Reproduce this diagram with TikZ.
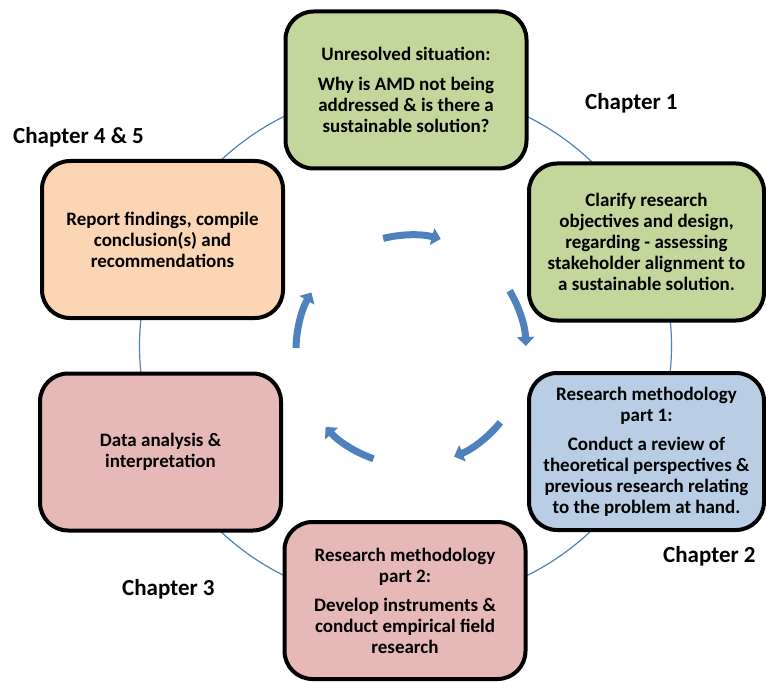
\documentclass[tikz,border=0pt]{standalone}
\usepackage{fontspec}
\setmainfont{Carlito}
\usetikzlibrary{arrows.meta,positioning}

\definecolor{ringblue}{HTML}{4F81BD}
\definecolor{sagegreen}{HTML}{C3D69B}
\definecolor{paleblue}{HTML}{B9CDE5}
\definecolor{peach}{HTML}{FCD5B5}
\definecolor{dustypink}{HTML}{E6B9B8}

\begin{document}
\begin{tikzpicture}[
  x=1pt, y=-1pt,
  box/.style={rectangle, draw, line width=4pt, rounded corners=28pt, align=center, minimum width=241pt, minimum height=157pt, inner sep=0pt, font=\fontsize{19}{21}\selectfont\bfseries},
  chap/.style={font=\fontsize{23}{27}\selectfont\bfseries, anchor=base west, inner sep=0pt},
  ring/.style={draw=ringblue, line width=1.2pt},
  cyc/.style={draw=ringblue, line width=7pt, -{Triangle[width=17pt,length=9pt]}}
]
\useasboundingbox (0,0) rectangle (766,682);

% thin ring behind the boxes
\draw[ring] (405.5,346) ellipse [x radius=266, y radius=258];

\node[box, fill=sagegreen] (unresolved) at (406,90) {Unresolved situation:\\[9pt]Why is AMD not being\\addressed \& is there a\\sustainable solution?};
\node[box, fill=sagegreen, minimum width=235pt] (clarify) at (646.5,242) {Clarify research\\objectives and design,\\regarding - assessing\\stakeholder alignment to\\a sustainable solution.};
\node[box, fill=paleblue, minimum width=235pt] (methodA) at (646.5,451.5) {Research methodology\\part 1:\\[8pt]Conduct a review of\\theoretical perspectives \&\\previous research relating\\to the problem at hand.};
\node[box, fill=dustypink] (methodB) at (405,600.5) {Research methodology\\part 2:\\[8pt]Develop instruments \&\\conduct empirical field\\research};
\node[box, fill=dustypink] (analysis) at (160.5,452) {Data analysis \&\\interpretation};
\node[box, fill=peach] (report) at (162.5,239.5) {Report findings, compile\\conclusion(s) and\\recommendations};

\node[chap] (chone) at (585,110) {Chapter 1};
\node[chap] (chtwo) at (663,562) {Chapter 2};
\node[chap] (chthree) at (122,595) {Chapter 3};
\node[chap] (chfour) at (13,144) {Chapter 4 \& 5};

% cycle arrows
\coordinate (mid) at (411,350);
\foreach \a in {104,31,-39,-109,179}
  \draw[cyc] ([shift={(-\a:115)}]mid) arc[start angle=-\a, end angle=-\a+29, radius=115];
\end{tikzpicture}
\end{document}
